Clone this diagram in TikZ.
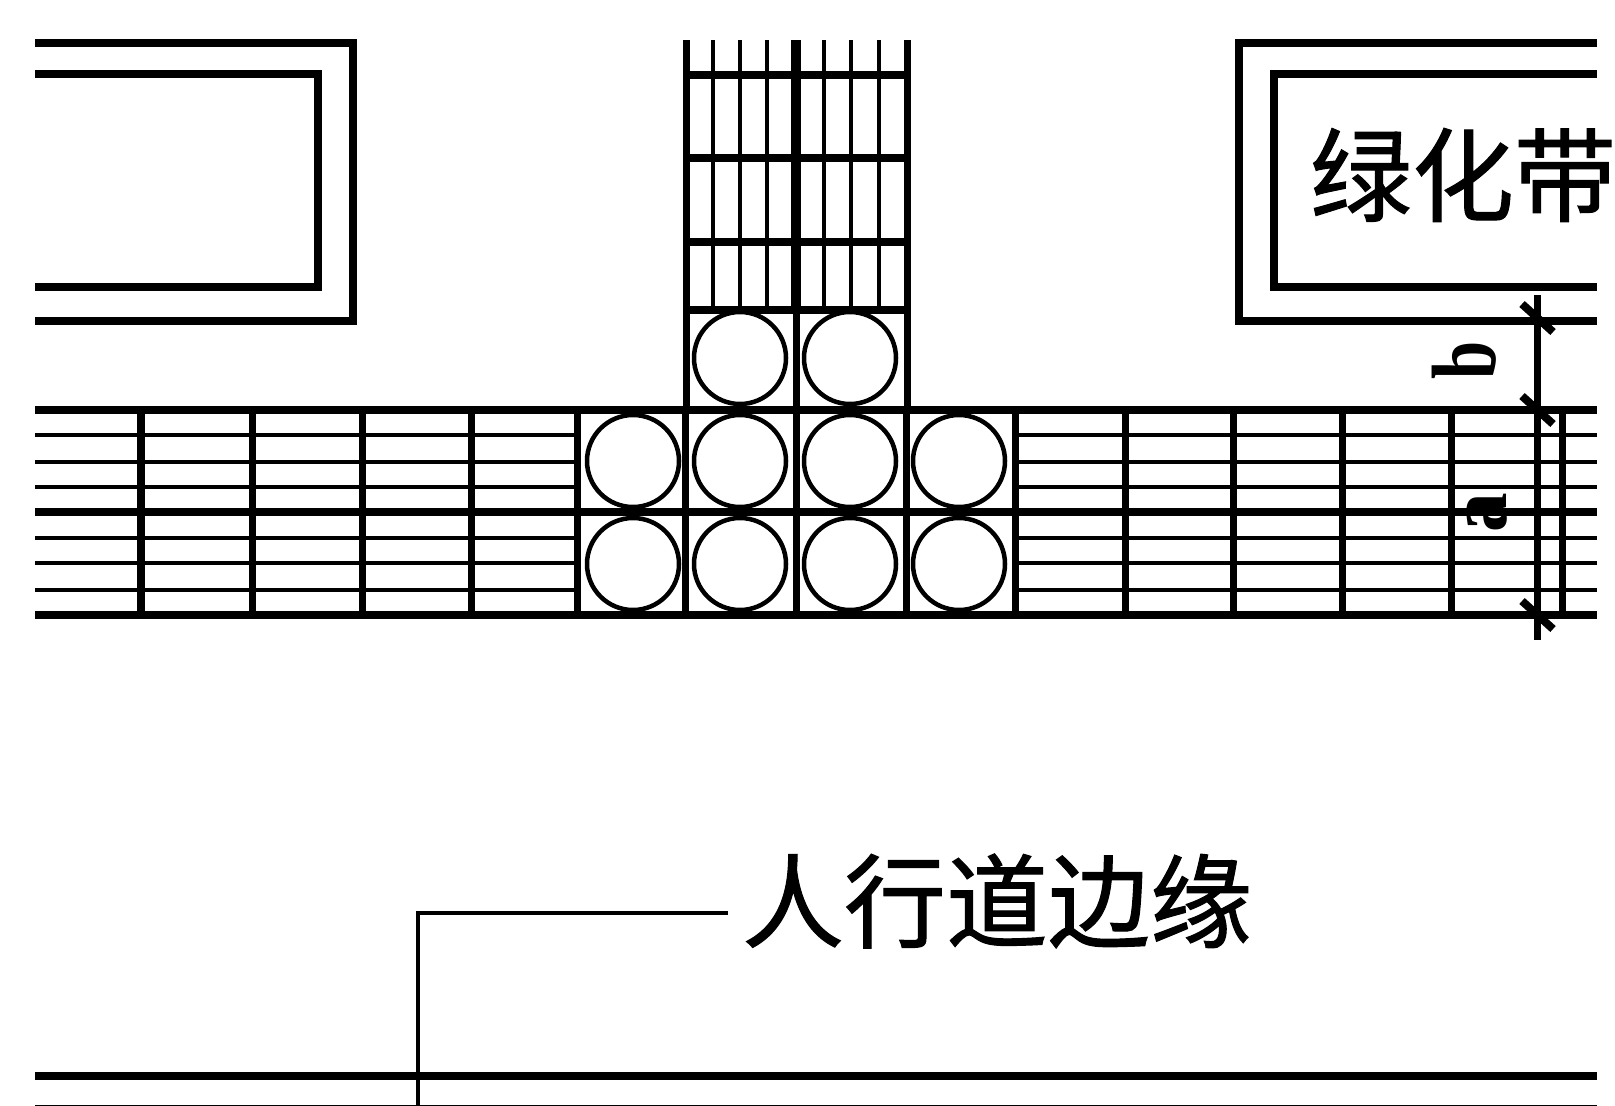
\documentclass[tikz,border=0pt]{standalone}
\usepackage{fontspec}
\usepackage{tikz}
\usetikzlibrary{positioning, calc}
\newfontfamily\cjkfont[FakeBold=1]{Noto Sans CJK SC}
\setmainfont{Liberation Serif}
\tikzset{
    heavyline/.style={line width=0.085cm},
    midline/.style={line width=0.07cm},
    lightline/.style={line width=0.047cm},
    dimtick/.style={line width=0.08cm},
    pipe/.style={line width=0.045cm},
    cjklabel/.style={inner sep=0pt, font=\cjkfont\fontsize{29}{29}\selectfont},
    dimlabel/.style={inner sep=0pt, rotate=90, xscale=0.75, transform shape, font=\bfseries\fontsize{26}{26}\selectfont}
}
\begin{document}
\begin{tikzpicture}[x=0.01cm,y=-0.01cm]
            \useasboundingbox (0,0) rectangle (1615,1106);
            \fill[white] (0,0) rectangle (1615,1106);

            \draw[heavyline] (35,43) -- (353,43) -- (353,321) -- (35,321);
            \draw[heavyline] (35,74) -- (318,74) -- (318,287) -- (35,287);
            \draw[heavyline] (1597,43) -- (1239,43) -- (1239,321) -- (1597,321);
            \draw[heavyline] (1597,74) -- (1274,74) -- (1274,287) -- (1597,287);
            \node[cjklabel] (beltlabel) at (1463,175) {绿化带};

            \foreach \i in {713, 740, 767, 824, 851, 879}{
                \draw[lightline] (\i,40) -- (\i,310);
            }
            \foreach \j in {75, 158, 242, 310}{
                \draw[heavyline] (686,\j) -- (907,\j);
            }
            \draw[midline] (686,40) -- (686,410);
            \draw[midline] (907,40) -- (907,410);
            \draw[line width=0.1cm] (796,40) -- (796,310);
            \draw[midline] (796,310) -- (796,615);

            \foreach \j in {435, 462, 487, 538, 563, 590}{
                \draw[lightline] (35,\j) -- (577,\j);
                \draw[lightline] (1015,\j) -- (1597,\j);
            }
            \foreach \j in {410, 512, 615}{
                \draw[heavyline] (35,\j) -- (1597,\j);
            }
            \foreach \i in {141, 252, 362, 471, 577, 685, 906, 1015, 1125, 1233, 1342, 1451}{
                \draw[midline] (\i,410) -- (\i,615);
            }
            \draw[midline] (1562,410) -- (1562,615);

            \foreach \i in {740, 850}{
                \draw[pipe] (\i,358) circle (46);
            }
            \foreach \i in {633, 740, 850, 959}{
                \draw[pipe] (\i,461) circle (46);
                \draw[pipe] (\i,564) circle (46);
            }

            \coordinate (dimtop) at (1537,295);
            \coordinate (dimfoot) at (1537,640);
            \draw[midline] (dimtop) -- (dimfoot);
            \foreach \j in {318, 410, 615}{
                \draw[dimtick] (1522,\j-14) -- (1553,\j+14);
            }
            \node[dimlabel] (widthb) at (1464,360) {b};
            \node[dimlabel, xscale=1.25, font=\bfseries\fontsize{24}{24}\selectfont] (widtha) at (1487,513) {a};

            \node[cjklabel] (edgelabel) at (997,901) {人行道边缘};
            \coordinate (leaderend) at (728,913);
            \coordinate (leaderfoot) at (418,1106);
            \draw[lightline] (leaderend) -| (leaderfoot);
            \draw[heavyline] (35,1076) -- (1597,1076);
            \draw[lightline] (35,1107) -- (1597,1107);
        \end{tikzpicture}
\end{document}
